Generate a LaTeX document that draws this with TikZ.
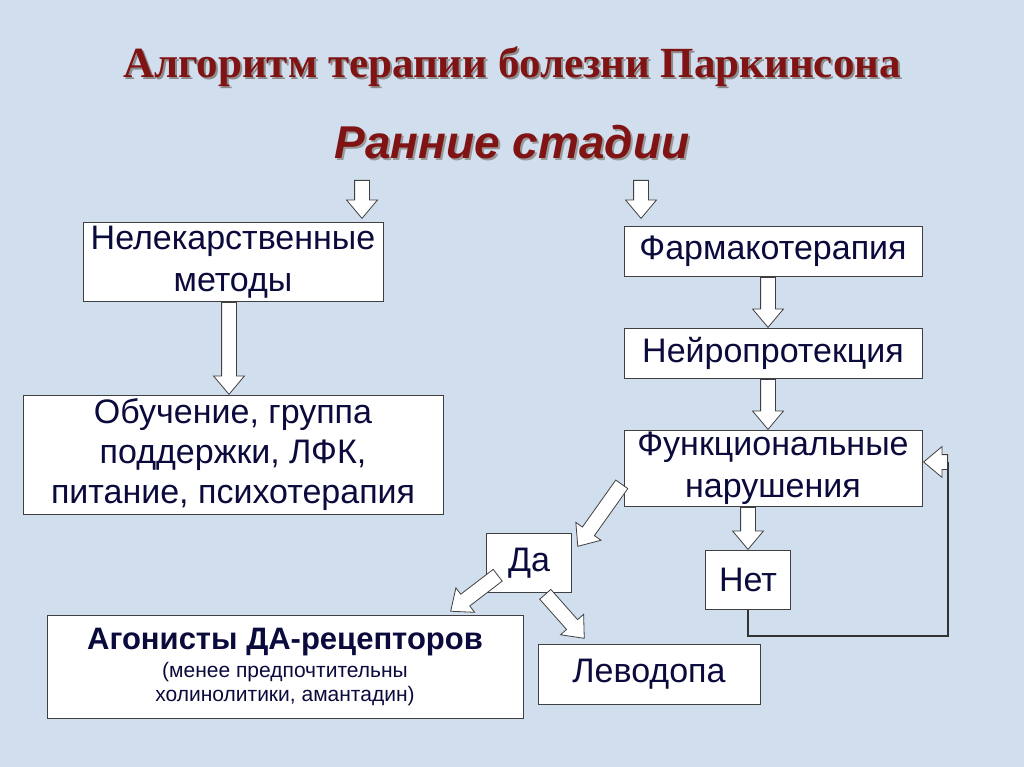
\documentclass[tikz,border=0pt]{standalone}
\usepackage{fontspec}
\setmainfont{Liberation Sans}
\newfontfamily\titlefont{Liberation Serif}
\usetikzlibrary{calc,shapes.arrows}
\definecolor{bgblue}{RGB}{208,222,238}
\definecolor{textnavy}{RGB}{10,10,60}
\definecolor{titlered}{RGB}{128,20,20}
\tikzset{
  box/.style={draw=black!75, fill=white, line width=0.9pt, text=textnavy, align=center, inner sep=0pt,
    font=\fontsize{34}{42}\selectfont},
  hollow/.style={single arrow, draw=black!75, fill=white, line width=0.8pt, inner xsep=0pt, inner ysep=7pt,
    single arrow head extend=8pt, single arrow tip angle=80, anchor=tail}
}
\newcommand{\hollowarrow}[2]{%
  \path let \p1=($(#2)-(#1)$), \n1={atan2(\y1,\x1)}, \n2={veclen(\x1,\y1)} in
    node[hollow, minimum height=\n2, rotate=\n1] at (#1) {};}
\begin{document}
\begin{tikzpicture}[x=1pt,y=-1pt]
  \fill[bgblue] (0,0) rectangle (1024,767);
  \useasboundingbox (0,0) rectangle (1024,767);

  % Title
  \node[text=black!45, font=\titlefont\bfseries\fontsize{43}{50}\selectfont] at (514,69) {Алгоритм терапии болезни Паркинсона};
  \node[text=titlered, font=\titlefont\bfseries\fontsize{43}{50}\selectfont] (title) at (512,67) {Алгоритм терапии болезни Паркинсона};
  \node[text=black!40, font=\bfseries\itshape\fontsize{46}{54}\selectfont] at (514,144) {Ранние стадии};
  \node[text=titlered, font=\bfseries\itshape\fontsize{46}{54}\selectfont] (early) at (512,142) {Ранние стадии};

  % Boxes
  \node[box, minimum width=300, minimum height=79] (nondrug) at (233,262) {Нелекарственные\\ методы};
  \node[box, minimum width=420, minimum height=119, font=\fontsize{34}{40}\selectfont] (edu) at (233,455)
    {Обучение, группа\\ поддержки, ЛФК,\\ питание, психотерапия};
  \node[box, minimum width=298, minimum height=50] (pharma) at (773,251) {Фармакотерапия};
  \node[box, minimum width=298, minimum height=50] (neuro) at (773,353) {Нейропротекция};
  \node[box, minimum width=298, minimum height=76] (func) at (773,468) {Функциональные\\ нарушения};
  \node[box, minimum width=85, minimum height=59] (yes) at (529,563) {Да};
  \node[box, minimum width=85, minimum height=59] (no) at (748,580) {Нет};
  \node[box, minimum width=476, minimum height=103, font=\fontsize{21}{24}\selectfont] (agon) at (285,667)
    {{\bfseries\fontsize{31}{40}\selectfont Агонисты ДА-рецепторов}\\[4pt]
     (менее предпочтительны\\ холинолитики, амантадин)};
  \node[box, minimum width=222, minimum height=60] (levo) at (649,674) {Леводопа};

  % Feedback line
  \coordinate (loopA) at (no.south |- 0,636);
  \coordinate (loopB) at (948,636);
  \coordinate (loopC) at (948,462);
  \draw[line width=1.2pt, black!80] (no.south) -- (loopA) -- (loopB) -- (loopC);

  % Arrows
  \hollowarrow{362,180}{362,218}
  \hollowarrow{641,180}{641,218}
  \hollowarrow{229,302}{229,394}
  \hollowarrow{768,277}{768,327}
  \hollowarrow{768,379}{768,429}
  \hollowarrow{748,507}{748,549}
  \hollowarrow{622,484}{578,546}
  \hollowarrow{498,575}{451,611}
  \hollowarrow{545,594}{584,638}
  \hollowarrow{loopC}{924,462}
\end{tikzpicture}
\end{document}
